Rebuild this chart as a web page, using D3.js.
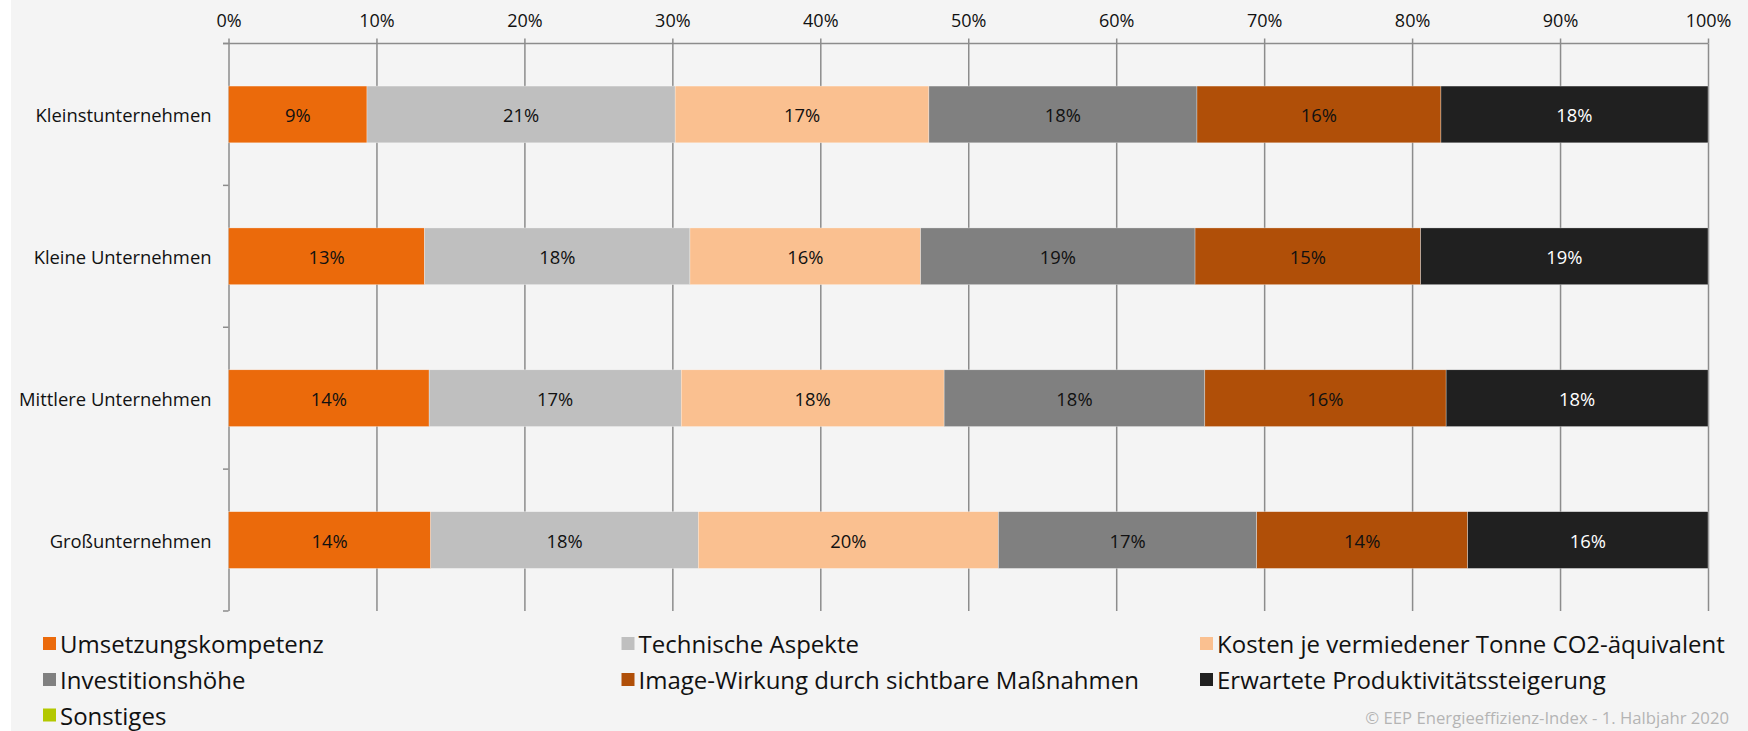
<!DOCTYPE html>
<html>
<head>
<meta charset="utf-8">
<script src="https://cdn.jsdelivr.net/npm/d3@7"></script>
<style>
  html, body { margin: 0; padding: 0; background: #ffffff; }
  svg { display: block; }
  text { font-family: "Open Sans", "Noto Sans", sans-serif; }
</style>
</head>
<body>
<svg id="chart" width="1748" height="731"></svg>
<script>
// ---- data ----
const categories = ["Kleinstunternehmen", "Kleine Unternehmen", "Mittlere Unternehmen", "Großunternehmen"];
const seriesNames = [
  "Umsetzungskompetenz",
  "Technische Aspekte",
  "Kosten je vermiedener Tonne CO2-äquivalent",
  "Investitionshöhe",
  "Image-Wirkung durch sichtbare Maßnahmen",
  "Erwartete Produktivitätssteigerung",
  "Sonstiges"
];
const umsetzungskompetenz = [9.36, 13.25, 13.56, 13.67];
const technischeAspekte   = [20.83, 17.94, 17.04, 18.08];
const kostenCO2           = [17.15, 15.59, 17.77, 20.29];
const investitionshoehe   = [18.12, 18.55, 17.62, 17.46];
const imageWirkung        = [16.49, 15.25, 16.31, 14.26];
const produktivitaet      = [18.05, 19.42, 17.70, 16.24];
const sonstiges           = [0, 0, 0, 0];
const xTickValues = [0, 0.1, 0.2, 0.3, 0.4, 0.5, 0.6, 0.7, 0.8, 0.9, 1.0];
const sourceNote = "© EEP Energieeffizienz-Index - 1. Halbjahr 2020";

(function () {
const seriesValues = [umsetzungskompetenz, technischeAspekte, kostenCO2, investitionshoehe, imageWirkung, produktivitaet, sonstiges];
const colors = ["#EB6A0B", "#BFBFBF", "#FAC090", "#808080", "#B04F08", "#202020", "#B3C800"];
const labelColors = ["#111", "#111", "#111", "#111", "#111", "#ffffff", "#111"];

// table for d3.stack
const table = categories.map((c, i) => {
  const row = { category: c };
  seriesNames.forEach((s, j) => { row[s] = seriesValues[j][i]; });
  return row;
});

const svg = d3.select("#chart");
const W = 1748, H = 731;

// background
svg.append("rect").attr("x", 0).attr("y", 0).attr("width", W).attr("height", H).attr("fill", "#ffffff");
svg.append("rect").attr("x", 11).attr("y", 0).attr("width", W - 11).attr("height", H).attr("fill", "#F4F4F4");

const mLeft = 228.5, mRight = 1708, mTop = 43.5, mBottom = 611;

const x = d3.scaleLinear().domain([0, 1]).range([mLeft, mRight]);
const y = d3.scaleBand().domain(categories).range([mTop, mBottom]).paddingInner(0.6).paddingOuter(0.3);

const stack = d3.stack().keys(seriesNames).offset(d3.stackOffsetExpand);
const stacked = stack(table);

const gridColor = "#8C8C8C";

// vertical gridlines
const gridAxis = d3.axisTop(x).tickValues(xTickValues).tickSize(-(mBottom - mTop)).tickFormat("");
const gGrid = svg.append("g").attr("transform", `translate(0,${mTop})`).call(gridAxis);
gGrid.select(".domain").remove();
gGrid.selectAll(".tick line").attr("stroke", gridColor).attr("stroke-width", 1.5);

// top axis with ticks + labels
const xAxis = d3.axisTop(x).tickValues(xTickValues).tickSize(5).tickSizeOuter(0).tickPadding(12).tickFormat(d3.format(".0%"));
const gX = svg.append("g").attr("transform", `translate(0,${mTop})`).call(xAxis);
gX.select(".domain").remove();
gX.selectAll(".tick line").attr("stroke", gridColor).attr("stroke-width", 1.5);
gX.selectAll(".tick text")
  .attr("font-family", "Open Sans")
  .attr("font-size", "18px")
  .attr("fill", "#111");
svg.append("line")
  .attr("x1", mLeft - 5.5).attr("x2", mRight)
  .attr("y1", mTop).attr("y2", mTop)
  .attr("stroke", gridColor).attr("stroke-width", 1.5);

// left axis ticks at band boundaries
const step = y.step();
const boundaries = d3.range(categories.length + 1).map(i => mTop + i * step);
svg.append("g").selectAll("line").data(boundaries).join("line")
  .attr("x1", mLeft - 5.5).attr("x2", mLeft)
  .attr("y1", d => d).attr("y2", d => d)
  .attr("stroke", gridColor).attr("stroke-width", 1.5);

// category labels
svg.append("g").selectAll("text").data(categories).join("text")
  .attr("x", mLeft - 17)
  .attr("y", d => y(d) + y.bandwidth() / 2)
  .attr("text-anchor", "end")
  .attr("dominant-baseline", "central")
  .attr("font-size", "18.4px")
  .attr("fill", "#111")
  .text(d => d);

// bars
const gSeries = svg.append("g").selectAll("g").data(stacked).join("g")
  .attr("fill", (d, i) => colors[i]);
gSeries.selectAll("rect").data(d => d).join("rect")
  .attr("x", d => x(d[0]))
  .attr("y", d => y(d.data.category))
  .attr("width", d => Math.max(0, x(d[1]) - x(d[0])))
  .attr("height", y.bandwidth())
  .attr("stroke", "#ffffff")
  .attr("stroke-width", 0.5)
  .attr("stroke-opacity", 0.6);

// bar labels
const gLabels = svg.append("g").selectAll("g").data(stacked).join("g")
  .attr("fill", (d, i) => labelColors[i]);
gLabels.selectAll("text").data(d => d.filter(v => (v[1] - v[0]) > 0.005)).join("text")
  .attr("x", d => (x(d[0]) + x(d[1])) / 2)
  .attr("y", d => y(d.data.category) + y.bandwidth() / 2)
  .attr("text-anchor", "middle")
  .attr("dominant-baseline", "central")
  .attr("font-size", "18.4px")
  .text(d => Math.round((d[1] - d[0]) * 100) + "%");

// legend
const legendCols = [43, 621.5, 1200];
const legendRows = [643.5, 679.5, 715];
const legend = svg.append("g").selectAll("g").data(seriesNames).join("g")
  .attr("transform", (d, i) => `translate(${legendCols[i % 3]},${legendRows[Math.floor(i / 3)]})`);
legend.append("rect")
  .attr("x", 0).attr("y", -6.5)
  .attr("width", 13).attr("height", 13)
  .attr("fill", (d, i) => colors[i]);
legend.append("text")
  .attr("x", 17).attr("y", 0)
  .attr("dominant-baseline", "central")
  .attr("font-size", "24px")
  .attr("fill", "#111")
  .text(d => d);

// source note
svg.append("text")
  .attr("x", 1729).attr("y", 717)
  .attr("text-anchor", "end")
  .attr("dominant-baseline", "central")
  .attr("font-size", "16.7px")
  .attr("fill", "#B4B4B4")
  .text(sourceNote);
})();
</script>
</body>
</html>
